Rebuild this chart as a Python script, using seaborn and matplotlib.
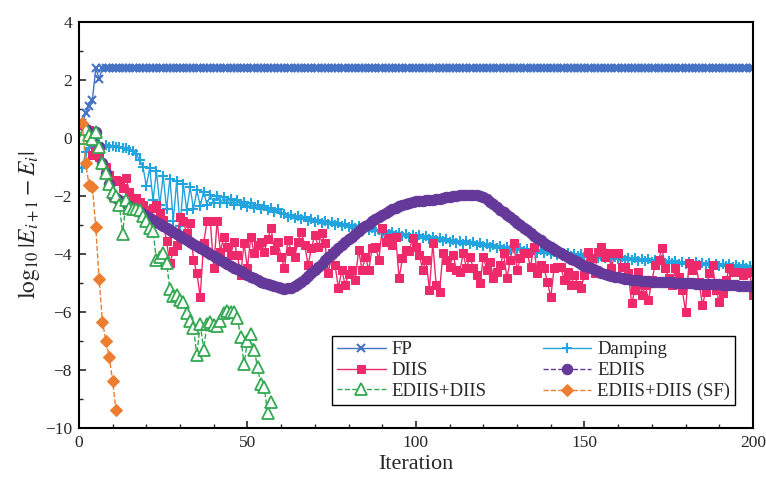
import matplotlib
matplotlib.use('Agg')
import matplotlib.pyplot as plt
import seaborn as sns
from matplotlib.ticker import MultipleLocator

sns.set_style('ticks')
plt.rcParams['font.family'] = ['Liberation Serif', 'DejaVu Serif']
plt.rcParams['mathtext.fontset'] = 'stix'
plt.rcParams['xtick.direction'] = 'in'
plt.rcParams['ytick.direction'] = 'in'

# log10 |E_{i+1} - E_i| per iteration
fp = [0.5, 0.85, 1.1, 1.3, 2.4, 2.05] + [2.4] * 194

damping = [
    -1.05, -0.5, -0.35, -0.25, -0.3, -0.2, -0.3, -0.25, -0.3, -0.28,
    -0.32, -0.3, -0.35, -0.33, -0.4, -0.45, -0.55, -0.75, -1.0, -1.65,
    -1.05, -2.15, -1.15, -2.3, -1.3, -2.45, -1.4, -2.85, -1.5, -3.05,
    -1.6, -2.5, -1.7, -2.45, -1.8, -2.35, -1.85, -2.3, -1.95, -2.25,
    -2.0, -2.25, -2.05, -2.25, -2.1, -2.3, -2.15, -2.32, -2.2, -2.38,
    -2.25, -2.42, -2.3, -2.45, -2.35, -2.5, -2.4, -2.55, -2.45, -2.6,
    -2.62, -2.72, -2.66, -2.77, -2.7, -2.81, -2.74, -2.85, -2.78, -2.89,
    -2.82, -2.93, -2.86, -2.97, -2.9, -3.0, -2.93, -3.04, -2.97, -3.08,
    -3.0, -3.11, -3.04, -3.15, -3.08, -3.19, -3.12, -3.22, -3.16, -3.26,
    -3.2, -3.3, -3.24, -3.34, -3.28, -3.37, -3.3, -3.4, -3.33, -3.43,
    -3.36, -3.46, -3.39, -3.49, -3.42, -3.52, -3.45, -3.55, -3.48, -3.58,
    -3.51, -3.61, -3.54, -3.64, -3.57, -3.67, -3.6, -3.7, -3.63, -3.73,
    -3.66, -3.76, -3.69, -3.79, -3.72, -3.82, -3.75, -3.85, -3.78, -3.88,
    -3.81, -3.9, -3.83, -3.93, -3.86, -3.95, -3.88, -3.98, -3.91, -4.0,
    -3.93, -4.02, -3.95, -4.04, -3.97, -4.06, -3.99, -4.08, -4.01, -4.1,
    -4.03, -4.12, -4.05, -4.14, -4.07, -4.15, -4.08, -4.17, -4.1, -4.19,
    -4.12, -4.2, -4.13, -4.22, -4.15, -4.23, -4.16, -4.25, -4.18, -4.27,
    -4.2, -4.28, -4.21, -4.3, -4.23, -4.31, -4.24, -4.33, -4.26, -4.34,
    -4.27, -4.36, -4.29, -4.37, -4.3, -4.39, -4.32, -4.4, -4.33, -4.42,
    -4.35, -4.43, -4.36, -4.45, -4.38, -4.46, -4.39, -4.48, -4.41, -4.5,
]

diis = [
    0.45, 0.3, 0.28, -0.6, -0.45, -0.65, -0.93, -1.0, -1.28, -2.0,
    -1.45, -1.5, -1.73, -1.39, -1.85, -2.14, -2.08, -2.2, -2.3, -2.5,
    -2.94, -2.4, -2.31, -2.6, -2.83, -3.57, -4.32, -3.9, -3.69, -2.71,
    -2.88, -3.29, -2.92, -4.2, -4.67, -5.47, -3.63, -2.88, -2.88, -4.49,
    -2.88, -3.92, -3.4, -3.75, -4.03, -3.6, -4.03, -4.72, -3.63, -4.49,
    -3.4, -3.98, -3.7, -3.58, -3.92, -3.5, -3.11, -3.86, -3.6, -4.09,
    -4.49, -3.52, -3.9, -4.09, -3.6, -3.23, -3.7, -4.38, -3.8, -3.34,
    -3.75, -3.29, -3.63, -4.67, -3.98, -4.38, -5.18, -4.55, -5.07, -4.7,
    -4.55, -4.9, -3.86, -4.55, -4.09, -4.55, -3.8, -3.75, -4.2, -3.11,
    -3.6, -3.46, -3.7, -3.4, -4.84, -4.15, -3.86, -3.9, -3.46, -3.75,
    -4.03, -4.55, -4.2, -5.24, -3.63, -5.07, -5.3, -3.98, -4.2, -4.44,
    -4.03, -4.55, -4.61, -3.98, -4.49, -4.09, -4.49, -4.72, -5.01, -4.09,
    -4.55, -4.26, -4.84, -4.61, -4.38, -3.98, -4.84, -4.2, -3.63, -4.55,
    -4.15, -3.98, -3.98, -4.44, -3.75, -4.67, -4.38, -4.49, -4.96, -5.49,
    -4.49, -4.44, -4.44, -4.9, -4.61, -5.07, -4.72, -5.07, -5.18, -4.72,
    -3.92, -4.15, -4.67, -3.92, -3.75, -4.09, -3.98, -4.49, -3.98, -3.98,
    -4.44, -4.44, -4.67, -5.7, -5.24, -4.61, -5.41, -5.07, -5.59, -4.9,
    -4.38, -4.2, -3.8, -4.49, -4.84, -5.07, -4.49, -4.78, -5.24, -5.99,
    -4.32, -4.55, -4.38, -4.96, -5.76, -5.3, -4.67, -4.38, -5.24, -5.64,
    -5.36, -4.9, -4.49, -4.61, -4.61, -4.61, -4.72, -4.67, -4.61, -5.41,
]

ediis = [
    0.0, 0.3, 0.1, -0.02, 0.2, -0.3, -0.85, -1.2, -1.6, -2.0,
    -2.08, -2.15, -2.22, -2.29, -2.36, -2.43, -2.5, -2.57, -2.63, -2.69,
    -2.76, -2.83, -2.9, -2.97, -3.04, -3.11, -3.18, -3.25, -3.32, -3.39,
    -3.46, -3.53, -3.6, -3.66, -3.73, -3.8, -3.87, -3.94, -4.0, -4.07,
    -4.14, -4.21, -4.27, -4.34, -4.4, -4.47, -4.53, -4.6, -4.66, -4.72,
    -4.78, -4.84, -4.9, -4.95, -5.0, -5.04, -5.08, -5.12, -5.15, -5.18,
    -5.2, -5.19, -5.16, -5.11, -5.04, -4.96, -4.87, -4.77, -4.66, -4.55,
    -4.44, -4.33, -4.22, -4.11, -4.0, -3.9, -3.8, -3.7, -3.6, -3.5,
    -3.4, -3.3, -3.21, -3.12, -3.04, -2.96, -2.88, -2.8, -2.73, -2.66,
    -2.59, -2.52, -2.46, -2.4, -2.35, -2.31, -2.27, -2.24, -2.21, -2.19,
    -2.17, -2.16, -2.15, -2.14, -2.13, -2.11, -2.09, -2.07, -2.05, -2.03,
    -2.01, -1.99, -1.97, -1.96, -1.95, -1.95, -1.96, -1.97, -2.0, -2.05,
    -2.12, -2.2, -2.29, -2.38, -2.47, -2.56, -2.65, -2.74, -2.83, -2.92,
    -3.01, -3.1, -3.19, -3.28, -3.37, -3.45, -3.53, -3.61, -3.68, -3.75,
    -3.82, -3.89, -3.96, -4.03, -4.1, -4.16, -4.22, -4.28, -4.34, -4.4,
    -4.45, -4.5, -4.55, -4.6, -4.64, -4.68, -4.72, -4.75, -4.78, -4.81,
    -4.83, -4.85, -4.87, -4.89, -4.9, -4.91, -4.92, -4.93, -4.94, -4.95,
    -4.96, -4.96, -4.97, -4.97, -4.98, -4.98, -4.99, -4.99, -5.0, -5.0,
    -5.01, -5.01, -5.02, -5.02, -5.03, -5.03, -5.04, -5.04, -5.05, -5.05,
    -5.06, -5.06, -5.07, -5.08, -5.08, -5.09, -5.1, -5.1, -5.11, -5.12,
]

ediis_diis = [
    0.0, 0.3, 0.1, -0.02, 0.2, -0.3, -0.85, -1.2, -1.6, -1.85,
    -2.0, -2.3, -3.3, -2.15, -2.4, -2.45, -2.45, -2.5, -2.7, -2.85,
    -3.1, -3.2, -4.2, -4.1, -3.95, -4.3, -5.2, -5.45, -5.4, -5.6,
    -5.65, -6.05, -6.3, -6.55, -7.5, -6.4, -7.3, -6.4, -6.35, -6.45,
    -6.5, -6.3, -6.05, -5.98, -6.0, -6.0, -6.2, -6.85, -7.8, -7.0,
    -6.75, -7.3, -7.9, -8.5, -8.6, -9.5, -9.1,
]

ediis_diis_sf = [0.5, -0.87, -1.62, -1.68, -3.06, -4.87, -6.33, -7.0, -7.55, -8.38, -9.38]

series = [
    ('FP', fp, '#4472c4', 'x', '-', 6, 'full'),
    ('Damping', damping, '#22a5de', '+', '-', 7.5, 'full'),
    ('DIIS', diis, '#ee2a6b', 's', '-', 6, 'full'),
    ('EDIIS', ediis, '#65399a', 'o', '--', 7.5, 'full'),
    ('EDIIS+DIIS', ediis_diis, '#34a853', '^', '--', 8, 'none'),
    ('EDIIS+DIIS (SF)', ediis_diis_sf, '#ed7d31', 'D', '--', 6, 'full'),
]

fig, ax = plt.subplots(figsize=(7.66, 4.88), dpi=100)
fig.subplots_adjust(left=0.103, right=0.983, bottom=0.123, top=0.955)

for name, vals, col, mk, ls, ms, fill in series:
    kw = dict(color=col, marker=mk, linestyle=ls, markersize=ms, linewidth=1.0,
              markeredgecolor=col, label=name)
    if fill == 'none':
        kw['markerfacecolor'] = 'white'
        kw['markeredgewidth'] = 1.3
    elif mk in ('x', '+'):
        kw['markeredgewidth'] = 1.5
    else:
        kw['markerfacecolor'] = col
    sns.lineplot(x=list(range(1, len(vals) + 1)), y=vals, ax=ax, **kw)

ax.set_xlim(0, 200)
ax.set_ylim(-10, 4)
ax.xaxis.set_major_locator(MultipleLocator(50))
ax.xaxis.set_minor_locator(MultipleLocator(10))
ax.yaxis.set_major_locator(MultipleLocator(2))
ax.yaxis.set_minor_locator(MultipleLocator(1))
ax.tick_params(which='major', length=5, width=1.2, labelsize=12.5, pad=5)
ax.tick_params(which='minor', length=3, width=1.0)
for s in ax.spines.values():
    s.set_linewidth(1.5)
    s.set_color('black')

ax.set_xlabel('Iteration', fontsize=16, labelpad=3)
ax.set_ylabel(r'$\log_{10}|E_{i+1}-E_{i}|$', fontsize=17, labelpad=2)

handles, labels = ax.get_legend_handles_labels()
order = [0, 2, 4, 1, 3, 5]
leg = ax.legend([handles[i] for i in order], [labels[i] for i in order],
                ncol=2, loc='lower right', bbox_to_anchor=(0.973, 0.057),
                borderaxespad=0, fontsize=13.5, handlelength=2.6,
                handletextpad=0.3, labelspacing=0.2, borderpad=0.25,
                columnspacing=3.0, fancybox=False, frameon=True,
                edgecolor='black', framealpha=1)
leg.get_frame().set_linewidth(1.0)

fig.savefig('out.png', dpi=100)
